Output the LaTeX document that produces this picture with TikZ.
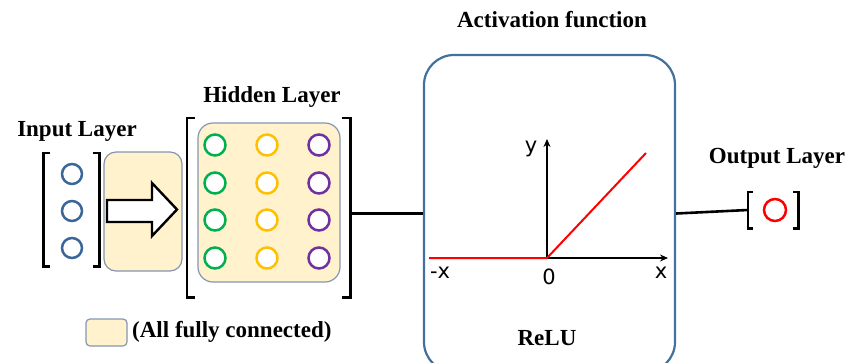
\documentclass[tikz,border=0pt]{standalone}
\usepackage{fontspec}
\setmainfont{Liberation Serif}
\newfontfamily\axisfont{DejaVu Sans}
\usetikzlibrary{arrows.meta}
\definecolor{boxfill}{HTML}{FFF2CC}
\definecolor{boxedge}{HTML}{8497B0}
\definecolor{reluedge}{HTML}{41719C}
\definecolor{inblue}{HTML}{3A6699}
\definecolor{hgreen}{HTML}{00B050}
\definecolor{hgold}{HTML}{FFC000}
\definecolor{hpurple}{HTML}{7030A0}
\tikzset{
  title/.style={font=\fontsize{23}{26}\selectfont\bfseries, inner sep=0pt},
  axlabel/.style={font=\axisfont\fontsize{21}{23}\selectfont, inner sep=0pt},
  ybox/.style={draw=boxedge, fill=boxfill, line width=1.2pt, rounded corners=12pt, inner sep=0pt},
  neuron/.style={circle, draw, line width=2.5pt, minimum size=20pt, inner sep=0pt, fill=white},
  brk/.style={line width=2.6pt, black},
  groupbox/.style={inner sep=0pt},
  conn/.style={line width=2.6pt, black},
}
\begin{document}
\begin{tikzpicture}[x=1pt,y=-1pt]
\useasboundingbox (0,0) rectangle (849,362);
\clip (0,0) rectangle (849,362);
\fill[white] (0,0) rectangle (849,362);

% ---------- Input layer ----------
\node[title] (intitle) at (77,131) {Input Layer};
\node[groupbox, minimum width=56pt, minimum height=113pt] (inbr) at (71.5,209.5) {};
\draw[brk] ([xshift=7pt]inbr.north west) -- (inbr.north west) -- (inbr.south west) -- ([xshift=7pt]inbr.south west);
\draw[brk] ([xshift=-7pt]inbr.north east) -- (inbr.north east) -- (inbr.south east) -- ([xshift=-7pt]inbr.south east);
\node[neuron, draw=inblue] (i1) at (72,174) {};
\node[neuron, draw=inblue] (i2) at (72,211) {};
\node[neuron, draw=inblue] (i3) at (72,248) {};

% fully connected box with arrow
\node[ybox, minimum width=78pt, minimum height=119pt] (fc) at (143,211.5) {};
\draw[line width=2.4pt, fill=white, line join=miter]
  (107,200) -- (152,200) -- (152,183) -- (177,209.5) -- (152,236) -- (152,222) -- (107,222) -- cycle;

% ---------- Hidden layer ----------
\node[title] (hidtitle) at (272,97) {Hidden Layer};
\node[groupbox, minimum width=163pt, minimum height=179pt] (hid) at (268.5,207.5) {};
\draw[brk] ([xshift=8pt]hid.north west) -- (hid.north west) -- (hid.south west) -- ([xshift=8pt]hid.south west);
\draw[brk] ([xshift=-8pt]hid.north east) -- (hid.north east) -- (hid.south east) -- ([xshift=-8pt]hid.south east);
\node[ybox, minimum width=142pt, minimum height=159pt, rounded corners=15pt] (hbox) at (269,202.5) {};
\foreach \r/\yy in {1/145,2/183,3/220,4/258}{
  \node[neuron, draw=hgreen, minimum size=21pt] (g\r) at (215,\yy) {};
  \node[neuron, draw=hgold, minimum size=21pt] (o\r) at (267,\yy) {};
  \node[neuron, draw=hpurple, minimum size=21pt] (p\r) at (319,\yy) {};
}

% ---------- Activation function ----------
\node[title] (acttitle) at (552,20) {Activation function};
\node[draw=reluedge, line width=2.2pt, rounded corners=30pt, minimum width=251pt, minimum height=317pt, inner sep=0pt, fill=white] (relu) at (549.5,213.5) {};
\coordinate (orig) at (547,258);
\coordinate (xend) at (668,258);
\coordinate (yend) at (547,139);
\coordinate (rleft) at (429,258);
\coordinate (rtop) at (646,153);
\draw[line width=2.8pt, -{Stealth[length=8pt,width=7pt]}] (orig) -- (xend);
\draw[line width=2.8pt, -{Stealth[length=8pt,width=7pt]}] (orig) -- (yend);
\draw[red, line width=2pt] (rleft) -- (orig) -- (rtop);
\node[axlabel] (ylab) at (531,149) {y};
\node[axlabel] (mxlab) at (440,273) {-x};
\node[axlabel] (zlab) at (549,277) {0};
\node[axlabel] (xlab) at (661,273) {x};
\node[title] (relutitle) at (547,338) {ReLU};

% ---------- Output layer ----------
\node[title] (outtitle) at (777,158) {Output Layer};
\node[groupbox, minimum width=50pt, minimum height=36pt] (outbr) at (773,210) {};
\draw[brk] ([xshift=5pt]outbr.north west) -- (outbr.north west) -- (outbr.south west) -- ([xshift=5pt]outbr.south west);
\draw[brk] ([xshift=-5pt]outbr.north east) -- (outbr.north east) -- (outbr.south east) -- ([xshift=-5pt]outbr.south east);
\node[neuron, draw=red, minimum size=22pt] (out) at (775,210) {};

% ---------- connectors ----------
\draw[conn] (hid.east |- relu.west) -- (relu.west);
\draw[conn] (relu.east) -- (outbr.west);

% ---------- legend ----------
\node[ybox, minimum width=41pt, minimum height=27pt, rounded corners=4pt] (leg) at (106.5,332.5) {};
\node[title, anchor=west] (legtext) at (132,332) {(All fully connected)};
\end{tikzpicture}
\end{document}
